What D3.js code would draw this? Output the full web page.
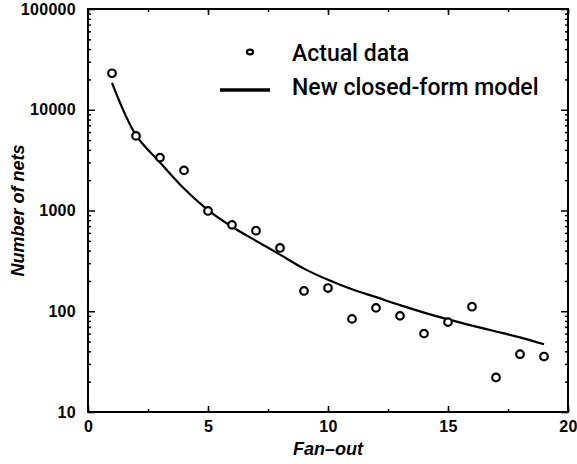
<!DOCTYPE html>
<html>
<head>
<meta charset="utf-8">
<script src="https://cdn.jsdelivr.net/npm/d3@7"></script>
<style>
  body { margin: 0; background: #fff; }
  svg { display: block; }
  text { font-family: "Liberation Sans", Arial, sans-serif; fill: #000; }
</style>
</head>
<body>
<svg width="577" height="464"></svg>
<script>
// fan-out values and measured net counts
const fanout = [1, 2, 3, 4, 5, 6, 7, 8, 9, 10, 11, 12, 13, 14, 15, 16, 17, 18, 19];
const actual = [23000, 5500, 3350, 2500, 990, 720, 630, 425, 159, 170, 84, 108, 90, 60, 78, 111, 22, 37.5, 35.5];
// closed-form model, read at each fan-out
const model = [18500, 5600, 3000, 1650, 1010, 690, 500, 365, 265, 205, 165, 138, 115, 97, 83, 72, 63, 55, 47];
const xTicks = [0, 5, 10, 15, 20];
const yTicks = [10, 100, 1000, 10000, 100000];

const svg = d3.select('svg');
const mLeft = 88, mRight = 568, mTop = 9, mBottom = 412;

const x = d3.scaleLinear().domain([0, 20]).range([mLeft, mRight]);
const y = d3.scaleLog().domain([10, 100000]).range([mBottom, mTop]);

const minorX = d3.range(0, 20.01, 2.5);
const minorY = y.ticks().filter(v => yTicks.indexOf(v) < 0);

// ticks, all pointing inward
function ticks(g, axis) { g.call(axis); g.select('.domain').remove(); g.selectAll('line').attr('stroke', '#000').attr('stroke-width', 1.5); }

svg.append('g').attr('transform', `translate(0,${mBottom})`)
  .call(g => ticks(g, d3.axisBottom(x).tickValues(minorX).tickSize(-3).tickFormat('')));
svg.append('g').attr('transform', `translate(0,${mBottom})`)
  .call(g => ticks(g, d3.axisBottom(x).tickValues(xTicks).tickSize(-6).tickPadding(9).tickFormat(d3.format('d'))));
svg.append('g').attr('transform', `translate(0,${mTop})`)
  .call(g => ticks(g, d3.axisTop(x).tickValues(minorX).tickSize(-3).tickFormat('')));
svg.append('g').attr('transform', `translate(0,${mTop})`)
  .call(g => ticks(g, d3.axisTop(x).tickValues(xTicks).tickSize(-6).tickFormat('')));

svg.append('g').attr('transform', `translate(${mLeft},0)`)
  .call(g => ticks(g, d3.axisLeft(y).tickValues(minorY).tickSize(-3).tickFormat('')));
svg.append('g').attr('transform', `translate(${mLeft},0)`)
  .call(g => ticks(g, d3.axisLeft(y).tickValues(yTicks).tickSize(-7).tickPadding(12).tickFormat(d3.format('d'))));
svg.append('g').attr('transform', `translate(${mRight},0)`)
  .call(g => ticks(g, d3.axisRight(y).tickValues(minorY).tickSize(-3).tickFormat('')));
svg.append('g').attr('transform', `translate(${mRight},0)`)
  .call(g => ticks(g, d3.axisRight(y).tickValues(yTicks).tickSize(-7).tickFormat('')));

svg.selectAll('.tick text')
  .style('font-family', '"Liberation Sans", Arial, sans-serif')
  .style('font-size', '16px').style('font-weight', 'bold')
  .style('letter-spacing', '0.3px').attr('fill', '#000');

// frame
svg.append('rect')
  .attr('x', mLeft).attr('y', mTop)
  .attr('width', mRight - mLeft).attr('height', mBottom - mTop)
  .attr('fill', 'none').attr('stroke', '#000').attr('stroke-width', 2);

// model curve
const line = d3.line().curve(d3.curveCatmullRom).x((d, i) => x(fanout[i])).y(d => y(d));
svg.append('path')
  .datum(model)
  .attr('d', line)
  .attr('fill', 'none')
  .attr('stroke', '#000')
  .attr('stroke-width', 2.2);

// actual data
svg.append('g')
  .selectAll('circle')
  .data(actual)
  .enter()
  .append('circle')
  .attr('cx', (d, i) => x(fanout[i]))
  .attr('cy', d => y(d))
  .attr('r', 3.8)
  .attr('fill', '#fff')
  .attr('stroke', '#000')
  .attr('stroke-width', 2.2);

// legend
const legendFont = 'Roboto, "Liberation Sans", sans-serif';
svg.append('ellipse').attr('cx', 250).attr('cy', 52).attr('rx', 3).attr('ry', 2.3)
  .attr('fill', '#fff').attr('stroke', '#000').attr('stroke-width', 2.2);
svg.append('text').attr('x', 292).attr('y', 61)
  .style('font-family', legendFont).style('font-weight', 500).style('font-size', '23px')
  .text('Actual data');
svg.append('line').attr('x1', 220).attr('x2', 270).attr('y1', 90).attr('y2', 90)
  .attr('stroke', '#000').attr('stroke-width', 3.5);
svg.append('text').attr('x', 292).attr('y', 95)
  .style('font-family', legendFont).style('font-weight', 500).style('font-size', '23px')
  .text('New closed-form model');

// axis titles
svg.append('text')
  .attr('x', (mLeft + mRight) / 2).attr('y', 455)
  .attr('text-anchor', 'middle')
  .style('font-size', '18px').style('font-weight', 'bold').style('font-style', 'italic')
  .text('Fan\u2013out');
svg.append('text')
  .attr('transform', `translate(24,${(mTop + mBottom) / 2}) rotate(-90)`)
  .attr('text-anchor', 'middle')
  .style('font-size', '18px').style('font-weight', 'bold').style('font-style', 'italic')
  .text('Number of nets');
</script>
</body>
</html>
